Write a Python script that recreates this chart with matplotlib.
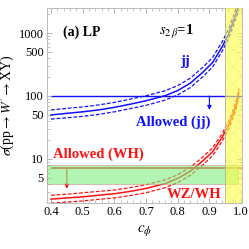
import matplotlib
matplotlib.use("Agg")
import matplotlib.pyplot as plt
from matplotlib.ticker import FixedLocator, NullFormatter, LogLocator

plt.rcParams['font.family'] = ['Liberation Serif', 'DejaVu Serif']
plt.rcParams['mathtext.fontset'] = 'stix'
plt.rcParams['hatch.linewidth'] = 0.4

# values
c_phi = [0.4, 0.45, 0.5, 0.55, 0.6, 0.65, 0.7, 0.76, 0.8, 0.84, 0.88, 0.91,
         0.94, 0.96, 0.975, 0.985, 0.993]
jj_mid = [50, 53, 56, 60, 66, 74, 84, 101, 122, 160, 240, 340,
          600, 950, 1500, 2100, 2700]
jj_up = [60, 63.5, 67, 72, 79, 89, 101, 121, 146, 192, 288, 408,
         720, 1140, 1800, 2520, 3240]
jj_lo = [43, 45, 47.5, 51, 56, 63, 71, 86, 104, 136, 204, 289,
         510, 808, 1275, 1785, 2300]
wh_mid = [2.3, 2.4, 2.5, 2.65, 2.8, 3.05, 3.4, 4.05, 4.9, 6.4, 9.4, 13,
          22, 34, 52, 75, 115]
wh_up = [2.65, 2.75, 2.9, 3.05, 3.2, 3.5, 3.9, 4.65, 5.6, 7.4, 10.8, 15,
         25, 39, 60, 86, 132]
wh_lo = [1.98, 2.06, 2.15, 2.28, 2.4, 2.62, 2.9, 3.5, 4.2, 5.5, 8.1, 11.2,
         19, 29, 45, 64, 99]

jj_limit = 100
wh_limit = 7.1
wh_band = (4.05, 7.9)
excluded_c = (0.95, 1.003)

xticks = [0.4, 0.5, 0.6, 0.7, 0.8, 0.9, 1.0]
yticks = [5, 10, 50, 100, 500, 1000]

fig = plt.figure(figsize=(2.49, 2.49), dpi=100)
ax = fig.add_axes([0.187, 0.185, 0.785, 0.783])
ax.set_yscale('log')
ax.set_xlim(0.386, 1.003)
ax.set_ylim(2, 2500)

blue = '#1010ff'
red = '#ff1010'

ax.plot(c_phi, jj_mid, color=blue, lw=1.1, zorder=3)
ax.plot(c_phi, jj_up, color=blue, lw=0.9, ls=(0, (3, 1.5)), zorder=3)
ax.plot(c_phi, jj_lo, color=blue, lw=0.9, ls=(0, (3, 1.5)), zorder=3)
ax.plot(c_phi, wh_mid, color=red, lw=1.1, zorder=3)
ax.plot(c_phi, wh_up, color=red, lw=0.9, ls=(0, (3, 1.5)), zorder=3)
ax.plot(c_phi, wh_lo, color=red, lw=0.9, ls=(0, (3, 1.5)), zorder=3)

ax.hlines(jj_limit, 0.4, 1.003, color=blue, lw=1.0, zorder=3)
ax.hlines(wh_limit, 0.4, 1.003, color=red, lw=1.2, zorder=2)
ax.fill_between([0.386, 0.99], wh_band[0], wh_band[1], facecolor='#7fee7f',
                alpha=0.6, edgecolor='#d08080', lw=0.6, zorder=4)

ax.annotate('', xy=(0.9, 60), xytext=(0.9, jj_limit),
            arrowprops=dict(arrowstyle='-|>', color=blue, lw=0.8,
                            mutation_scale=6, shrinkA=0, shrinkB=0), zorder=3)
ax.annotate('', xy=(0.45, 3.36), xytext=(0.45, wh_limit),
            arrowprops=dict(arrowstyle='-|>', color=red, lw=0.8,
                            mutation_scale=6, shrinkA=0, shrinkB=0), zorder=2)

ax.axvspan(excluded_c[0], excluded_c[1], facecolor='#ffff40', alpha=0.6,
           edgecolor='#e0e0a0', hatch='xx', lw=0.0, zorder=5)
ax.axvline(excluded_c[0], color='#b0b0a0', lw=0.6, zorder=5)

ax.text(0.498, 1040, '(a) LP', fontsize=10, fontweight='bold',
        ha='center', va='center')
ax.text(0.797, 1050, r'$s_{2\,\beta}$=1', fontsize=10.5, fontweight='bold',
        ha='center', va='center')
ax.text(0.823, 349, 'jj', fontsize=10.5, fontweight='bold', color=blue,
        ha='center', va='center')
ax.text(0.786, 38.5, 'Allowed (jj)', fontsize=10.5, fontweight='bold',
        color=blue, ha='center', va='center')
ax.text(0.55, 11.9, 'Allowed (WH)', fontsize=10.5, fontweight='bold',
        color=red, ha='center', va='center')
ax.text(0.851, 2.74, 'WZ/WH', fontsize=10.5, fontweight='bold', color=red,
        ha='center', va='center')

ax.set_xticks(xticks)
ax.set_xticklabels([f'{t:.1f}' for t in xticks])
ax.xaxis.set_minor_locator(FixedLocator([0.4 + 0.02 * i for i in range(31)]))
ax.yaxis.set_major_locator(FixedLocator(yticks))
ax.set_yticklabels([str(t) for t in yticks])
ax.yaxis.set_minor_locator(LogLocator(base=10, subs=range(1, 10)))
ax.yaxis.set_minor_formatter(NullFormatter())
ax.tick_params(which='both', direction='in', top=True, right=True,
               color='#aaaaaa', labelsize=9, pad=2)
ax.tick_params(which='major', length=3.5, width=0.6)
ax.tick_params(which='minor', length=2, width=0.5)
for s in ax.spines.values():
    s.set_color('#bbbbbb')
    s.set_linewidth(0.7)

ax.set_xlabel(r'$c_{\phi}$', fontsize=11, labelpad=4)
ax.set_ylabel(r'$\sigma$(pp$\rightarrow W^{\prime}\rightarrow$XY)',
              fontsize=10, labelpad=1)

fig.savefig('out.png', dpi=100)
